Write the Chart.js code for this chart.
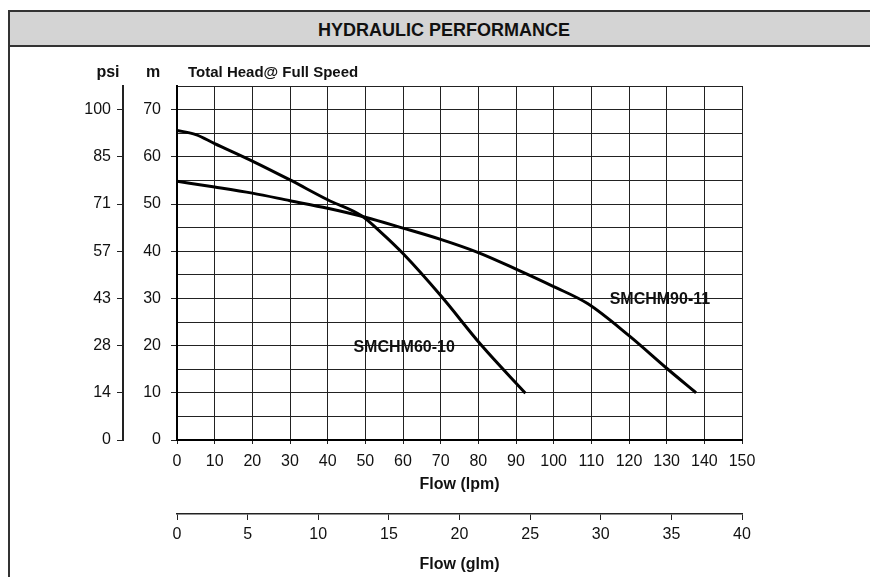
<!DOCTYPE html>
<html>
<head>
<meta charset="utf-8">
<script src="https://cdn.jsdelivr.net/npm/chart.js"></script>
<style>
body{margin:0;background:#fff;overflow:hidden;width:870px;height:577px;position:relative;font-family:"Liberation Sans",Arial,sans-serif}
#frame{position:absolute;left:8px;top:10px;width:880px;height:600px;border-left:2px solid #333;border-top:2px solid #333}
#bar{position:absolute;left:10px;top:12px;width:868px;height:31px;padding-top:2px;background:#d4d4d4;border-bottom:2px solid #333;font-weight:bold;font-size:18px;text-align:center;line-height:33px;color:#111}
#perf{position:absolute;left:0;top:0}
</style>
</head>
<body>
<div id="frame"></div>
<div id="bar">HYDRAULIC PERFORMANCE</div>
<canvas id="perf" width="870" height="577"></canvas>
<script>
// curves (flow in lpm, head in m)
var flow60 = [0, 5, 10, 20, 30, 40, 49, 54, 60, 70, 81, 92.5];
var head60 = [65.6, 64.7, 62.8, 59.1, 55.1, 50.9, 47.5, 44.1, 39.5, 30.6, 19.9, 9.9];
var flow90 = [0, 10, 20, 30, 40, 50, 60, 70, 80, 90, 100, 109, 120, 130, 137.8];
var head90 = [54.8, 53.6, 52.3, 50.7, 49.1, 47.2, 44.9, 42.5, 39.7, 36.2, 32.5, 28.9, 22.1, 15.2, 10];
var psiLabels = ["0", "14", "28", "43", "57", "71", "85", "100"];
var curveNames = ["SMCHM60-10", "SMCHM90-11"];
var nameAt = [[60.3, 19.6], [128.2, 29.8]];

var FONT = '"Liberation Sans", Arial, sans-serif';

function pts(xs, ys) {
  var out = [];
  for (var i = 0; i < xs.length; i++) out.push({x: xs[i], y: ys[i]});
  return out;
}

var textPlugin = {
  id: "texts",
  afterDraw: function(chart) {
    var ctx = chart.ctx;
    var xs = chart.scales.x, ys = chart.scales.y;
    ctx.save();
    ctx.fillStyle = "#111";
    ctx.textBaseline = "middle";
    ctx.font = "bold 16px " + FONT;
    ctx.textAlign = "center";
    ctx.fillText("psi", 108, 73);
    ctx.fillText("m", 153, 73);
    ctx.textAlign = "left";
    ctx.font = "bold 15px " + FONT;
    ctx.fillText("Total Head@ Full Speed", 188, 73);
    ctx.font = "bold 16px " + FONT;
    ctx.textAlign = "center";
    for (var i = 0; i < curveNames.length; i++) {
      ctx.fillText(curveNames[i], xs.getPixelForValue(nameAt[i][0]), ys.getPixelForValue(nameAt[i][1]));
    }
    ctx.restore();
  }
};

var tickFont = {family: FONT, size: 16};

new Chart("perf", {
  type: "scatter",
  data: {
    datasets: [{
      data: pts(flow60, head60),
      showLine: true,
      borderColor: "#000",
      borderWidth: 3,
      pointRadius: 0,
      cubicInterpolationMode: "monotone"
    }, {
      data: pts(flow90, head90),
      showLine: true,
      borderColor: "#000",
      borderWidth: 3,
      pointRadius: 0,
      cubicInterpolationMode: "monotone"
    }]
  },
  options: {
    responsive: false,
    animation: false,
    layout: {padding: {left: 40, right: 128, top: 86, bottom: 0}},
    plugins: {legend: {display: false}, tooltip: {enabled: false}},
    scales: {
      x: {
        type: "linear", position: "bottom", weight: 0,
        min: 0, max: 150,
        ticks: {stepSize: 10, color: "#111", font: tickFont, padding: 8, maxRotation: 0},
        grid: {color: "#222", lineWidth: 1, tickLength: 4, tickColor: "#222"},
        border: {color: "#000", width: 2},
        title: {display: true, text: "Flow (lpm)", color: "#111", font: {family: FONT, size: 16, weight: "bold"}, padding: {top: 2, bottom: 20}},
        afterFit: function(s) { s.height = 74; }
      },
      x2: {
        type: "linear", position: "bottom", weight: 1,
        min: 0, max: 40,
        ticks: {stepSize: 5, color: "#111", font: tickFont, padding: 5, maxRotation: 0},
        grid: {drawOnChartArea: false, tickLength: 6, tickColor: "#222"},
        border: {color: "#222", width: 1.5},
        title: {display: true, text: "Flow (glm)", color: "#111", font: {family: FONT, size: 16, weight: "bold"}, padding: {top: 4, bottom: 3}},
        afterFit: function(s) { s.height = 63; }
      },
      y: {
        type: "linear", position: "left", weight: 0,
        min: 0, max: 75,
        ticks: {
          stepSize: 5, color: "#111", font: tickFont, padding: 10,
          callback: function(v) { return (v % 10 === 0 && v <= 70) ? String(v) : ""; }
        },
        grid: {
          color: "#222", lineWidth: 1, tickLength: 6,
          tickColor: function(c) { return (c.tick && c.tick.value % 10 === 0 && c.tick.value <= 70) ? "#222" : "rgba(0,0,0,0)"; }
        },
        border: {color: "#000", width: 2},
        afterFit: function(s) { s.width = 54; }
      },
      psi: {
        type: "linear", position: "left", weight: 1,
        min: 0, max: 75,
        ticks: {
          stepSize: 10, includeBounds: false, color: "#111", font: tickFont, padding: 6,
          callback: function(v) { return psiLabels[v / 10]; }
        },
        grid: {drawOnChartArea: false, tickLength: 6, tickColor: "#222"},
        border: {color: "#222", width: 2},
        afterFit: function(s) { s.width = 83; }
      }
    }
  },
  plugins: [textPlugin]
});
</script>
</body>
</html>
